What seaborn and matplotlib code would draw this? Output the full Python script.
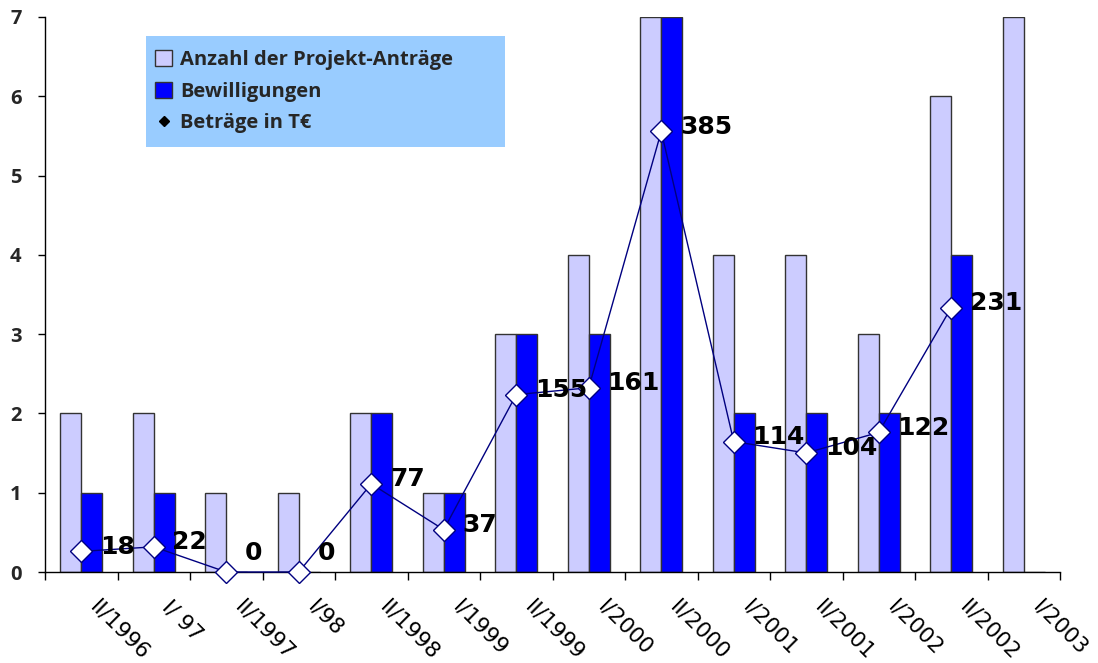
import matplotlib
matplotlib.use("Agg")
import matplotlib.pyplot as plt
from matplotlib.patches import Patch, Rectangle
from matplotlib.lines import Line2D
from matplotlib.transforms import ScaledTranslation, blended_transform_factory
import numpy as np
import pandas as pd
import seaborn as sns

# Halbjahre
perioden = ["II/1996", "I/ 97", "II/1997", "I/98", "II/1998", "I/1999", "II/1999",
            "I/2000", "II/2000", "I/2001", "II/2001", "I/2002", "II/2002", "I/2003"]
antraege = [2, 2, 1, 1, 2, 1, 3, 4, 7, 4, 4, 3, 6, 7]
bewilligungen = [1, 1, 0, 0, 2, 1, 3, 3, 7, 2, 2, 2, 4, 0]
betraege = [18, 22, 0, 0, 77, 37, 155, 161, 385, 114, 104, 122, 231]

serien = ["Anzahl der Projekt-Anträge", "Bewilligungen"]
farben = ["#CCCCFF", "#0000FF"]

df = pd.DataFrame({
    "Periode": perioden * 2,
    "Anzahl": antraege + bewilligungen,
    "Serie": [serien[0]] * len(perioden) + [serien[1]] * len(perioden),
})

sns.set_style("white")
plt.rcParams["font.family"] = ["DejaVu Sans"]

DPI = 100
fig = plt.figure(figsize=(10.98, 6.63), dpi=DPI)
ax = fig.add_axes([45 / 1098, 1 - 572 / 663, (1060 - 45) / 1098, (572 - 17) / 663])

sns.barplot(data=df, x="Periode", y="Anzahl", hue="Serie", order=perioden,
            hue_order=serien, palette=farben, width=0.58, edgecolor="#333333",
            linewidth=1.0, saturation=1, ax=ax, legend=False)

ax.set_xlim(-0.5, len(perioden) - 0.5)
ax.set_ylim(0, 7)
ax.set_xlabel("")
ax.set_ylabel("")
for s in ["top", "right"]:
    ax.spines[s].set_visible(False)
for s in ["left", "bottom"]:
    ax.spines[s].set_color("black")
    ax.spines[s].set_linewidth(1.0)

# Beträge auf zweiter Achse
ax2 = ax.twinx()
ax2.set_ylim(0, 485)
ax2.axis("off")
xb = np.arange(len(betraege))
ax2.plot(xb, betraege, color="#000080", lw=1.0, marker="D", markersize=11,
         markerfacecolor="white", markeredgecolor="#000080", markeredgewidth=1.0,
         zorder=5, clip_on=False)
for x, v in zip(xb, betraege):
    dy = 14 if v == 0 else 3.5
    ax2.annotate(f"{v}", (x, v), xytext=(13.5, dy), textcoords="offset points",
                 ha="left", va="center", fontsize=18, fontweight="bold",
                 fontfamily="DejaVu Sans", color="black", zorder=6)

# y-Achse
ax.set_yticks(range(0, 8))
ax.set_yticklabels([str(t) for t in range(0, 8)], fontfamily="Open Sans",
                   fontweight="bold", fontsize=14.5)
ax.tick_params(axis="y", direction="out", length=5, width=1, color="black", pad=12,
               left=True)

# x-Achse: Striche zwischen den Gruppen, Beschriftung schräg
ax.set_xticks(np.arange(-0.5, len(perioden), 1.0))
ax.set_xticklabels([])
ax.tick_params(axis="x", which="major", direction="out", length=6, width=1,
               color="black", bottom=True)
xtrans = blended_transform_factory(ax.transData, ax.transAxes) + \
    ScaledTranslation(19 / DPI, -25 / DPI, fig.dpi_scale_trans)
for i, p in enumerate(perioden):
    ax.text(i, 0, p, transform=xtrans, rotation=-45, rotation_mode="anchor",
            ha="left", va="top", fontsize=15.5, fontfamily="DejaVu Sans",
            color="black")

# Legende auf hellblauem Feld
fig.patches.append(Rectangle((146 / 1098, 1 - 147 / 663), 359 / 1098, 111 / 663,
                             transform=fig.transFigure, facecolor="#99CCFF",
                             edgecolor="none", zorder=0))
handles = [
    Patch(facecolor=farben[0], edgecolor="#333333", linewidth=1),
    Patch(facecolor=farben[1], edgecolor="#333333", linewidth=1),
    Line2D([], [], marker="D", color="black", ls="none", markersize=5),
]
labels = serien + ["Beträge in T€"]
leg = fig.legend(handles, labels, loc="upper left",
                 bbox_to_anchor=(155 / 1098, 1 - 50 / 663),
                 frameon=False,
                 prop={"family": "Open Sans", "weight": "bold", "size": 14.5},
                 handlelength=0.85, handleheight=0.85, handletextpad=0.4,
                 labelspacing=0.58, borderpad=0, borderaxespad=0)

fig.savefig("out.png", dpi=DPI)
